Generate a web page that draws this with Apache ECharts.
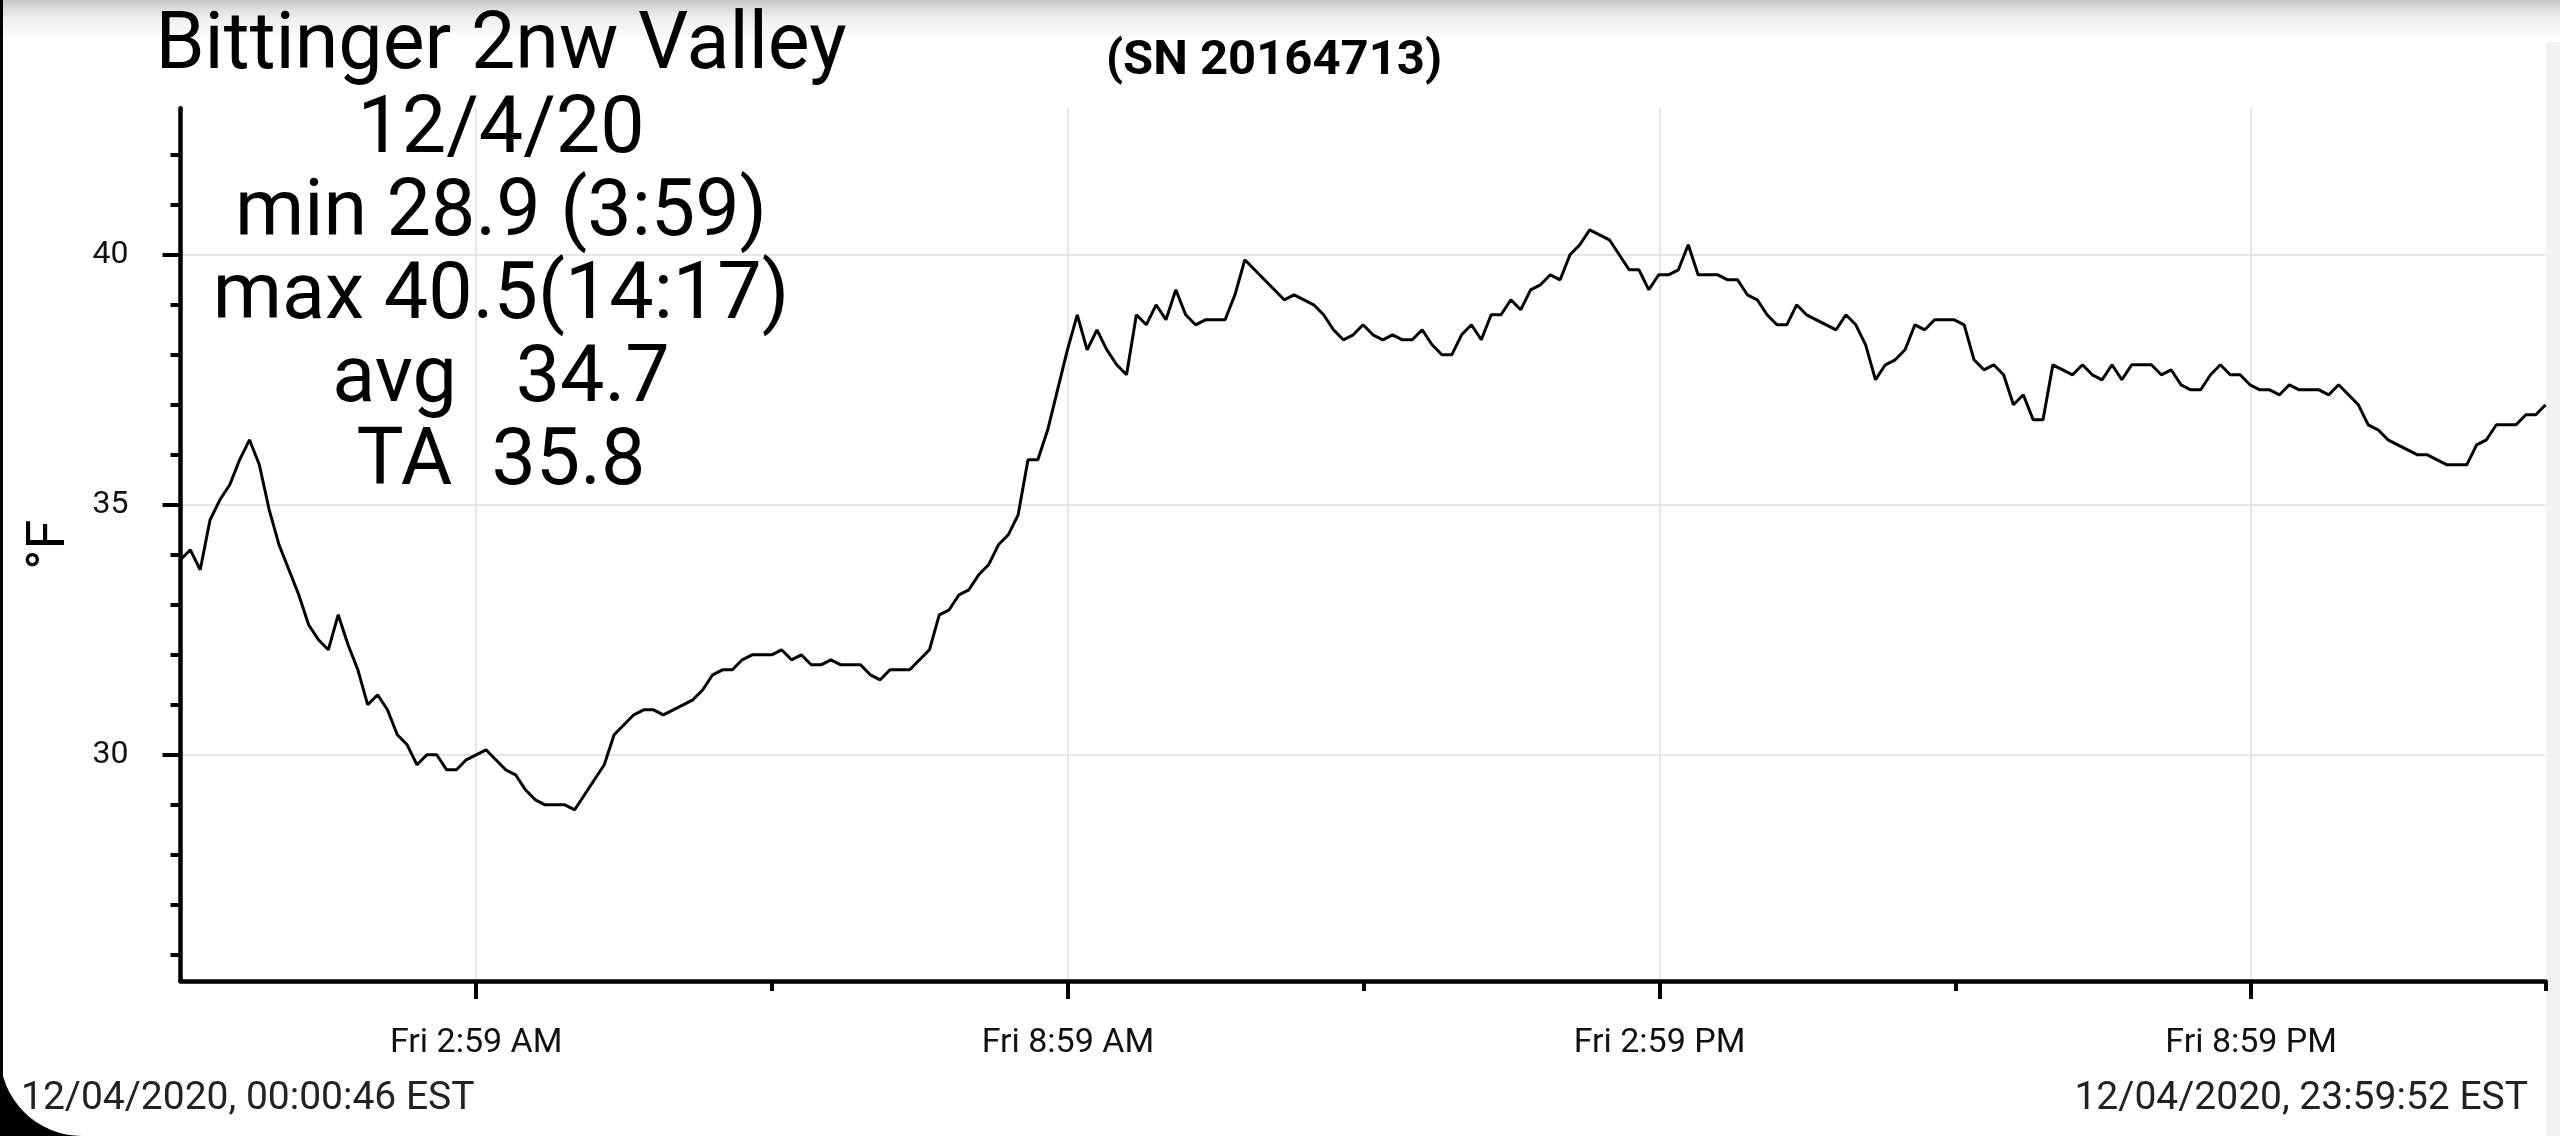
<!DOCTYPE html>
<html>
<head>
<meta charset="utf-8">
<script src="https://cdn.jsdelivr.net/npm/echarts@6/dist/echarts.min.js"></script>
<style>
html,body{margin:0;padding:0;background:#fff;}
#chart{width:2560px;height:1136px;}
</style>
</head>
<body>
<div id="chart"></div>
<script>
// ---- data ----
const firstSampleMin = 0.767;    // 00:00:46
const lastSampleMin = 1439.867;  // 23:59:52
const temps = [
33.9,34.1,33.7,34.7,35.1,35.4,35.9,36.3,35.8,34.9,
34.2,33.7,33.2,32.6,32.3,32.1,32.8,32.2,31.7,31.0,
31.2,30.9,30.4,30.2,29.8,30.0,30.0,29.7,29.7,29.9,
30.0,30.1,29.9,29.7,29.6,29.3,29.1,29.0,29.0,29.0,
28.9,29.2,29.5,29.8,30.4,30.6,30.8,30.9,30.9,30.8,
30.9,31.0,31.1,31.3,31.6,31.7,31.7,31.9,32.0,32.0,
32.0,32.1,31.9,32.0,31.8,31.8,31.9,31.8,31.8,31.8,
31.6,31.5,31.7,31.7,31.7,31.9,32.1,32.8,32.9,33.2,
33.3,33.6,33.8,34.2,34.4,34.8,35.9,35.9,36.5,37.3,
38.1,38.8,38.1,38.5,38.1,37.8,37.6,38.8,38.6,39.0,
38.7,39.3,38.8,38.6,38.7,38.7,38.7,39.2,39.9,39.7,
39.5,39.3,39.1,39.2,39.1,39.0,38.8,38.5,38.3,38.4,
38.6,38.4,38.3,38.4,38.3,38.3,38.5,38.2,38.0,38.0,
38.4,38.6,38.3,38.8,38.8,39.1,38.9,39.3,39.4,39.6,
39.5,40.0,40.2,40.5,40.4,40.3,40.0,39.7,39.7,39.3,
39.6,39.6,39.7,40.2,39.6,39.6,39.6,39.5,39.5,39.2,
39.1,38.8,38.6,38.6,39.0,38.8,38.7,38.6,38.5,38.8,
38.6,38.2,37.5,37.8,37.9,38.1,38.6,38.5,38.7,38.7,
38.7,38.6,37.9,37.7,37.8,37.6,37.0,37.2,36.7,36.7,
37.8,37.7,37.6,37.8,37.6,37.5,37.8,37.5,37.8,37.8,
37.8,37.6,37.7,37.4,37.3,37.3,37.6,37.8,37.6,37.6,
37.4,37.3,37.3,37.2,37.4,37.3,37.3,37.3,37.2,37.4,
37.2,37.0,36.6,36.5,36.3,36.2,36.1,36.0,36.0,35.9,
35.8,35.8,35.8,36.2,36.3,36.6,36.6,36.6,36.8,36.8,
37.0
];
const majorTickMinutes = [180.7, 540.7, 900.7, 1260.7];
const tickLabels = ['Fri 2:59 AM', 'Fri 8:59 AM', 'Fri 2:59 PM', 'Fri 8:59 PM'];
const minorTickMinutes = [360.7, 720.7, 1080.7, lastSampleMin];
const yMajorTicks = [30, 35, 40];
const yMinorTicks = [26, 27, 28, 29, 31, 32, 33, 34, 36, 37, 38, 39, 41, 42];
const yMin = 25.476, yMax = 42.93;
const statLines = ['Bittinger 2nw Valley', '12/4/20', 'min 28.9 (3:59)', 'max 40.5(14:17)', 'avg   34.7', 'TA  35.8'];
const serialText = '(SN 20164713)';
const startStamp = '12/04/2020, 00:00:46 EST';
const endStamp = '12/04/2020, 23:59:52 EST';
const unitName = '°F';

// ---- build ----
const step = (lastSampleMin - firstSampleMin) / (temps.length - 1);
const seriesData = temps.map((v, i) => [firstSampleMin + i * step, v]);

const FONT = 'Roboto, "Noto Sans", sans-serif';
const lineY = [48, 132, 215, 298, 381, 464];

const topShade = { type: 'linear', x: 0, y: 0, x2: 0, y2: 1, colorStops: [
  { offset: 0, color: '#c6c6c6' }, { offset: 0.15, color: '#d9d9d9' },
  { offset: 0.45, color: '#efefef' }, { offset: 1, color: '#ffffff' }] };

// rounded screen corner (bottom-left), decorative
const R = 82;
const cornerPts = [[0, 1136 - R]];
for (let k = 0; k <= 16; k++) {
  const a = Math.PI + (Math.PI / 2) * (k / 16);
  cornerPts.push([R + R * Math.cos(a), 1136 - R - R * Math.sin(a)]);
}
cornerPts.push([0, 1136]);

const graphics = [
  { type: 'rect', z: -5, shape: { x: 2546, y: 0, width: 14, height: 1136 }, style: { fill: '#f1f1f1' } },
  { type: 'rect', z: 0, shape: { x: 0, y: 0, width: 2560, height: 42 }, style: { fill: topShade } },
  { type: 'rect', z: 20, shape: { x: 0, y: 0, width: 3, height: 1136 }, style: { fill: '#000' } },
  { type: 'polygon', z: 20, shape: { points: cornerPts }, style: { fill: '#000' } }
];
statLines.forEach((t, i) => {
  graphics.push({ type: 'text', z: 10, x: 501, y: lineY[i],
    style: { text: t, font: '79px ' + FONT, fill: '#000', textAlign: 'center', textVerticalAlign: 'middle' } });
});
graphics.push({ type: 'text', z: 10, x: 1274, y: 62,
  style: { text: serialText, font: 'bold 49px ' + FONT, fill: '#000', textAlign: 'center', textVerticalAlign: 'middle' } });
graphics.push({ type: 'text', z: 10, x: 21, y: 1099,
  style: { text: startStamp, font: '39px ' + FONT, fill: '#222', textAlign: 'left', textVerticalAlign: 'middle' } });
graphics.push({ type: 'text', z: 10, x: 2528, y: 1099,
  style: { text: endStamp, font: '39px ' + FONT, fill: '#222', textAlign: 'right', textVerticalAlign: 'middle' } });

const chart = echarts.init(document.getElementById('chart'), null, { renderer: 'canvas' });
chart.setOption({
  animation: false,
  backgroundColor: '#ffffff',
  grid: { left: 180.5, right: 14.4, top: 108.3, bottom: 155, containLabel: false, outerBoundsMode: 'none' },
  xAxis: [
    { type: 'value', position: 'bottom', min: firstSampleMin, max: lastSampleMin,
      axisLine: { show: true, lineStyle: { color: '#000', width: 4.5 } },
      axisTick: { show: true, customValues: majorTickMinutes, length: 18, lineStyle: { color: '#000', width: 4 } },
      axisLabel: { show: true, customValues: majorTickMinutes, margin: 45, fontSize: 34, fontFamily: FONT, color: '#111',
        formatter: v => { const k = majorTickMinutes.findIndex(m => Math.abs(m - v) < 0.01); return k >= 0 ? tickLabels[k] : ''; } },
      splitLine: { show: true, lineStyle: { color: '#e6e6e6', width: 2 } } },
    { type: 'value', position: 'bottom', min: firstSampleMin, max: lastSampleMin,
      axisLine: { show: false },
      axisTick: { show: true, customValues: minorTickMinutes, length: 10, lineStyle: { color: '#000', width: 4 } },
      axisLabel: { show: false }, splitLine: { show: false } }
  ],
  yAxis: [
    { type: 'value', position: 'left', min: yMin, max: yMax,
      name: unitName, nameLocation: 'middle', nameRotate: 90, nameGap: 103,
      nameTextStyle: { fontSize: 54, fontFamily: FONT, color: '#000' },
      axisLine: { show: true, lineStyle: { color: '#000', width: 4.5 } },
      axisTick: { show: true, customValues: yMajorTicks, length: 18, lineStyle: { color: '#000', width: 4 } },
      axisLabel: { show: true, customValues: yMajorTicks, margin: 52, fontSize: 32, fontFamily: FONT, color: '#111' },
      splitLine: { show: true, lineStyle: { color: '#e6e6e6', width: 2 } } },
    { type: 'value', position: 'left', min: yMin, max: yMax,
      axisLine: { show: false },
      axisTick: { show: true, customValues: yMinorTicks, length: 10, lineStyle: { color: '#000', width: 4 } },
      axisLabel: { show: false }, splitLine: { show: false } }
  ],
  series: [{
    type: 'line', xAxisIndex: 0, yAxisIndex: 0, data: seriesData,
    showSymbol: false, symbol: 'none', smooth: false, silent: true,
    lineStyle: { color: '#000', width: 3 }
  }],
  graphic: graphics
});
</script>
</body>
</html>
